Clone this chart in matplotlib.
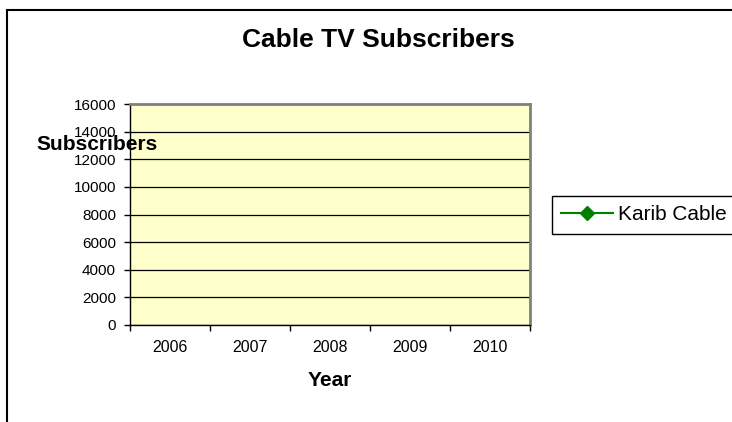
import numpy as np
import matplotlib.pyplot as plt
from matplotlib.patches import Rectangle

plt.rcParams['font.family'] = ['Liberation Sans', 'DejaVu Sans']

# data: the series has no values filled in yet
years = ['2006', '2007', '2008', '2009', '2010']
karib_cable = [np.nan, np.nan, np.nan, np.nan, np.nan]
yticks = [0, 2000, 4000, 6000, 8000, 10000, 12000, 14000, 16000]

W, H = 732, 422
fig = plt.figure(figsize=(W/100, H/100), dpi=100)
fig.patch.set_facecolor('white')

# outer chart frame (runs past the right and bottom edges)
fig.patches.append(Rectangle((7/W, -20/H), 760/W, (412+20)/H, transform=fig.transFigure,
                             fill=False, edgecolor='black', linewidth=1.5))

ax = fig.add_axes([130/W, (H-325)/H, 400/W, 221/H])
ax.set_facecolor('#FFFFCC')

x = np.arange(len(years))
ax.plot(x, karib_cable, color='#008000', marker='D', markersize=7, linewidth=1.5,
        label='Karib Cable')

ax.set_xlim(-0.5, len(years)-0.5)
ax.set_ylim(0, 16000)
ax.set_yticks(yticks)
ax.set_yticklabels([str(v) for v in yticks])
ax.yaxis.grid(True, color='black', linewidth=0.9)
ax.set_axisbelow(True)

# category ticks between years, labels centred on each year
ax.set_xticks(np.arange(len(years)+1)-0.5)
ax.set_xticklabels([])
ax.set_xticks(x, minor=True)
ax.set_xticklabels(years, minor=True)
ax.tick_params(axis='x', which='major', direction='out', length=4, width=1)
ax.tick_params(axis='x', which='minor', length=0, pad=11, labelsize=11.5)
ax.tick_params(axis='y', direction='out', length=4, width=1, pad=6, labelsize=11)

for s in ['top', 'right']:
    ax.spines[s].set_color('#808080')
    ax.spines[s].set_linewidth(2)
for s in ['left', 'bottom']:
    ax.spines[s].set_color('black')
    ax.spines[s].set_linewidth(1)

ax.set_xlabel('Year', fontsize=15, fontweight='bold', va='center')
ax.xaxis.set_label_coords(0.5, (325-380)/221)

fig.text(378/W, 1-40/H, 'Cable TV Subscribers', fontsize=19, fontweight='bold',
         ha='center', va='center')
fig.text(97/W, 1-144/H, 'Subscribers', fontsize=15, fontweight='bold',
         ha='center', va='center')

leg = fig.legend(loc='upper left', bbox_to_anchor=(552/W, 1-196/H), fontsize=15,
                 frameon=True, fancybox=False, edgecolor='black', framealpha=1,
                 handlelength=2.5, handletextpad=0.2, borderpad=0.45, borderaxespad=0)
leg.get_frame().set_linewidth(1)

fig.savefig('out.png', dpi=100)
